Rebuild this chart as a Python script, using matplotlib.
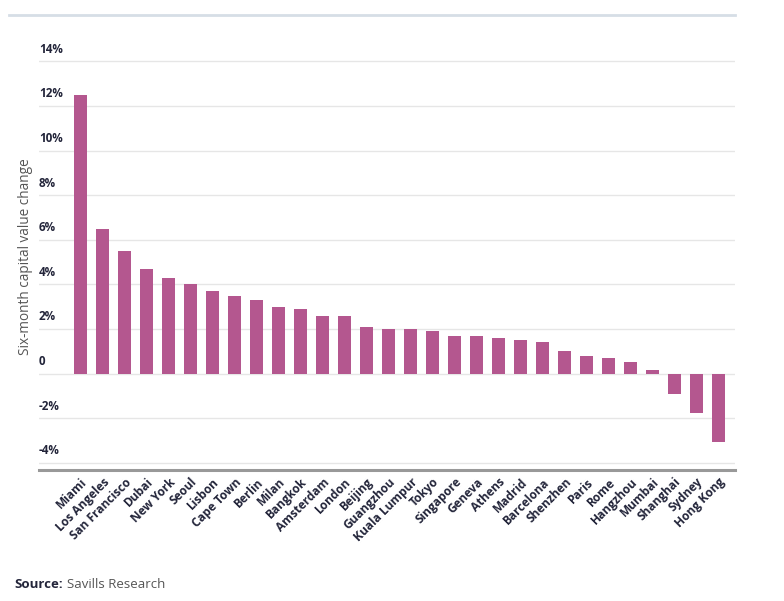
import matplotlib
matplotlib.use("Agg")
import matplotlib.pyplot as plt
import matplotlib.transforms as mtransforms
from matplotlib.lines import Line2D

cities = ["Miami", "Los Angeles", "San Francisco", "Dubai", "New York", "Seoul",
          "Lisbon", "Cape Town", "Berlin", "Milan", "Bangkok", "Amsterdam", "London",
          "Beijing", "Guangzhou", "Kuala Lumpur", "Tokyo", "Singapore", "Geneva",
          "Athens", "Madrid", "Barcelona", "Shenzhen", "Paris", "Rome", "Hangzhou",
          "Mumbai", "Shanghai", "Sydney", "Hong Kong"]
values = [12.5, 6.5, 5.5, 4.7, 4.3, 4.0, 3.7, 3.5, 3.3, 3.0, 2.9, 2.6, 2.6,
          2.1, 2.0, 2.0, 1.9, 1.7, 1.7, 1.6, 1.5, 1.4, 1.0, 0.8, 0.7, 0.5,
          0.15, -0.9, -1.75, -3.05]
yticks = [14, 12, 10, 8, 6, 4, 2, 0, -2, -4]
ytick_labels = ["14%", "12%", "10%", "8%", "6%", "4%", "2%", "0", "-2%", "-4%"]

W, H = 784, 601
fig = plt.figure(figsize=(W / 100, H / 100), dpi=100)
ax_left, ax_right = 39, 735
ax_bottom_px, ax_top_px = 470, 50.2
ax = fig.add_axes([ax_left / W, 1 - ax_bottom_px / H,
                   (ax_right - ax_left) / W, (ax_bottom_px - ax_top_px) / H])

bar_color = "#b4578f"
navy = "#23253a"
x = list(range(len(cities)))
ax.bar(x, values, width=0.59, color=bar_color, zorder=3)

ax.set_xlim(-1.89, 29.75)
ax.set_ylim(-4.32, 14.5)

for yv in yticks:
    ax.axhline(yv, color="#e6e6e6", lw=1.0, zorder=1)

for s in ["top", "right", "left"]:
    ax.spines[s].set_visible(False)
ax.spines["bottom"].set_color("#999999")
ax.spines["bottom"].set_linewidth(2.2)

ax.set_yticks([])
ax.set_xticks(x)
ax.set_xticklabels(cities, rotation=45, ha="right", rotation_mode="anchor",
                   fontsize=8.6, fontweight="bold", color=navy, family="Open Sans")
ax.tick_params(axis="x", length=0, pad=4)

trans = mtransforms.blended_transform_factory(ax.transAxes, ax.transData)
for yv, lab in zip(yticks, ytick_labels):
    ax.text(0.0, yv + 0.25, lab, transform=trans, ha="left", va="bottom",
            fontsize=8.4, fontweight="bold", color=navy, family="Open Sans")

fig.text(26 / W, 1 - 257 / H, "Six-month capital value change", rotation=90,
         ha="center", va="center", fontsize=9.8, color="#555555", family="Open Sans")

# top rule
fig.add_artist(Line2D([9 / W, 735 / W], [1 - 15 / H, 1 - 15 / H],
                      transform=fig.transFigure, color="#d6dee6", lw=2.0))

t1 = fig.text(14 / W, 1 - 584 / H, "Source:", ha="left", va="center",
              fontsize=9.5, fontweight="bold", color=navy, family="Open Sans")
fig.canvas.draw()
bb = t1.get_window_extent()
fig.text((bb.x1 + 4) / W, 1 - 584 / H, "Savills Research", ha="left", va="center",
         fontsize=9.5, color="#555555", family="Open Sans")

fig.savefig("out.png", dpi=100)
